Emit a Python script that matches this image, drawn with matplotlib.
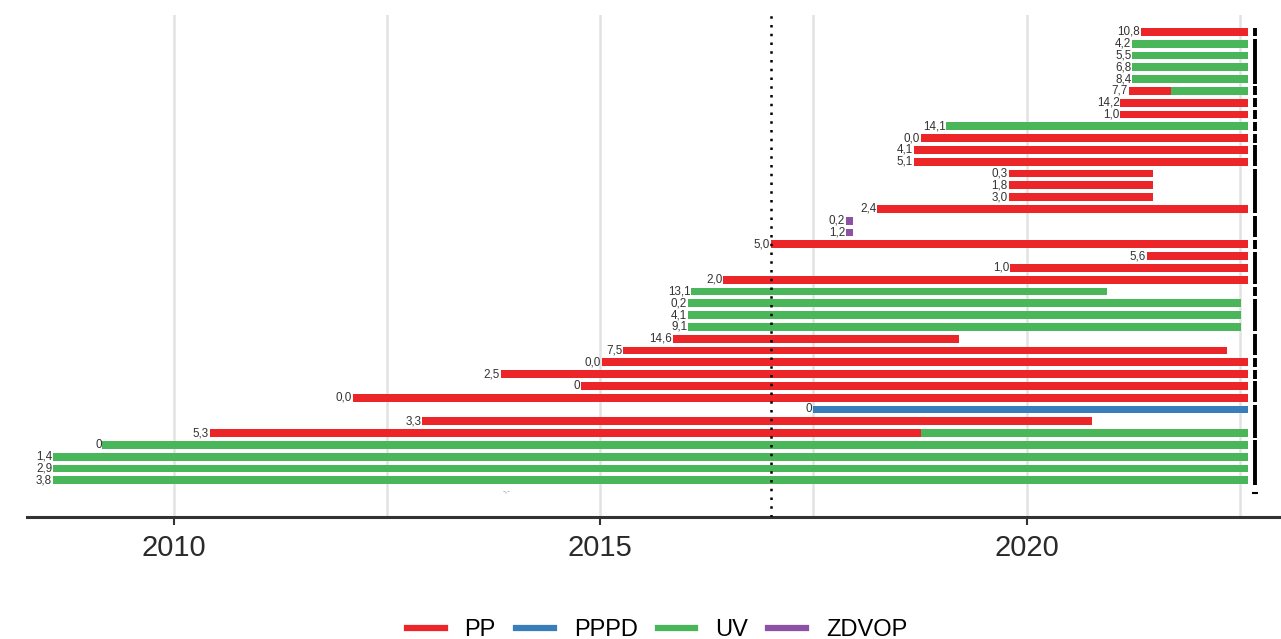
import matplotlib
matplotlib.use("Agg")
import matplotlib.pyplot as plt
from matplotlib.lines import Line2D

# categories / colours
types = ["PP", "PPPD", "UV", "ZDVOP"]
type_colors = {"PP": "#ec2528", "PPPD": "#3a7dbb", "UV": "#4ab65a", "ZDVOP": "#8d52a6"}

# one label per row (top to bottom)
row_labels = ["10,8", "4,2", "5,5", "6,8", "8,4", "7,7", "14,2", "1,0", "14,1", "0,0",
              "4,1", "5,1", "0,3", "1,8", "3,0", "2,4", "0,2", "1,2", "5,0", "5,6",
              "1,0", "2,0", "13,1", "0,2", "4,1", "9,1", "14,6", "7,5", "0,0", "2,5",
              "0", "0,0", "0", "3,3", "5,3", "0", "1,4", "2,9", "3,8", "-,-"]

# bar segments: row number, start, end, type
seg_row = [1, 2, 3, 4, 5, 6, 6, 7, 8, 9, 10, 11, 12, 13, 14, 15, 16, 17, 18, 19,
           20, 21, 22, 23, 24, 25, 26, 27, 28, 29, 30, 31, 32, 33, 34, 35, 35, 36, 37, 38, 39]
seg_start = [2021.34, 2021.24, 2021.24, 2021.24, 2021.24, 2021.20, 2021.70, 2021.10, 2021.10, 2019.06,
             2018.76, 2018.68, 2018.68, 2019.79, 2019.79, 2019.79, 2018.25, 2017.88, 2017.88, 2017.00,
             2021.41, 2019.81, 2016.44, 2016.07, 2016.03, 2016.03, 2016.03, 2015.85, 2015.27, 2015.02,
             2013.83, 2014.77, 2012.10, 2017.49, 2012.91, 2010.42, 2018.76, 2009.16, 2008.58, 2008.58, 2008.58]
seg_end = [2022.60, 2022.60, 2022.60, 2022.60, 2022.60, 2021.70, 2022.60, 2022.60, 2022.60, 2022.60,
           2022.60, 2022.60, 2022.60, 2021.48, 2021.48, 2021.48, 2022.60, 2017.97, 2017.97, 2022.60,
           2022.60, 2022.60, 2022.60, 2020.94, 2022.52, 2022.52, 2022.52, 2019.21, 2022.35, 2022.60,
           2022.60, 2022.60, 2022.60, 2022.60, 2020.77, 2018.76, 2022.60, 2022.60, 2022.60, 2022.60, 2022.60]
seg_type = ["PP", "UV", "UV", "UV", "UV", "PP", "UV", "PP", "PP", "UV",
            "PP", "PP", "PP", "PP", "PP", "PP", "PP", "ZDVOP", "ZDVOP", "PP",
            "PP", "PP", "PP", "UV", "UV", "UV", "UV", "PP", "PP", "PP",
            "PP", "PP", "PP", "PPPD", "PP", "PP", "UV", "UV", "UV", "UV", "UV"]

# row without bar (label only)
empty_row = 40
empty_row_x = 2013.95

# groups marked on the right
group_first = [1, 2, 6, 7, 8, 9, 10, 11, 13, 17, 19, 20, 23, 24, 27, 29, 30, 31, 33, 36]
group_last = [1, 5, 6, 7, 8, 9, 10, 12, 16, 18, 19, 22, 23, 26, 28, 29, 30, 32, 35, 39]
group_x = 2022.68

cutoff = 2017.0

fig = plt.figure(figsize=(12.81, 6.39), dpi=100)
ax = fig.add_axes([27 / 1281, 1 - 517 / 639, 1 - 27 / 1281, (517 - 15) / 639])

# grid
for gx in [2010, 2012.5, 2015, 2017.5, 2020, 2022.5]:
    ax.axvline(gx, color="#e2e2e2", lw=1.8, zorder=0)

# bars
for r, s, e, t in zip(seg_row, seg_start, seg_end, seg_type):
    ax.barh(r, e - s, left=s, height=0.66, color=type_colors[t], zorder=2)

# labels at the start of each row
for i, lab in enumerate(row_labels):
    r = i + 1
    starts = [s for rr, s in zip(seg_row, seg_start) if rr == r]
    if starts:
        ax.text(min(starts) - 0.01, r, lab, ha="right", va="center",
                fontsize=8.4, color="#333333", family="Liberation Sans", zorder=3)
    elif r == empty_row:
        ax.text(empty_row_x, r, lab, ha="right", va="center",
                fontsize=6, color="#8a8a8a", family="Liberation Sans", zorder=3)

# group markers
ax.vlines([group_x] * len(group_first), [g - 0.38 for g in group_first],
          [g + 0.38 for g in group_last], color="black", lw=2.8, zorder=3)
ax.plot([group_x], [empty_row + 0.05], marker="_", color="black", ms=4, mew=1.5)

# cutoff line
ax.axvline(cutoff, color="black", lw=1.8, ls=(0, (1, 2.5)), zorder=4)

ax.set_xlim(2008.276, 2022.985)
ax.set_ylim(42.12, -0.44)
ax.set_yticks([])
for sp in ["left", "right", "top"]:
    ax.spines[sp].set_visible(False)
ax.spines["bottom"].set_color("#333333")
ax.spines["bottom"].set_linewidth(2.2)
ax.set_xticks([2010, 2015, 2020])
ax.set_xticklabels(["2010", "2015", "2020"])
ax.tick_params(axis="x", length=6, width=1.5, color="#333333", pad=6,
               labelsize=21, labelcolor="#2a2a2a")
for lab in ax.get_xticklabels():
    lab.set_family("Liberation Sans")

handles = [Line2D([0], [0], color=type_colors[t], lw=4.5) for t in types]
leg = fig.legend(handles, types, loc="center", bbox_to_anchor=(0.513, 0.014), ncol=4,
                 frameon=False, handlelength=1.6, handletextpad=0.85,
                 columnspacing=0.85, prop={"family": "Liberation Sans", "size": 17})

fig.savefig("out.png", dpi=100)
